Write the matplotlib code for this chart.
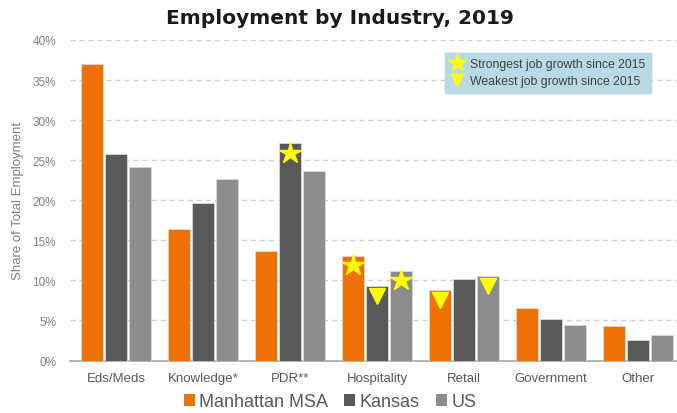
import matplotlib
matplotlib.use("Agg")
import matplotlib.pyplot as plt
import numpy as np
from matplotlib.lines import Line2D
from matplotlib.patches import Patch

categories = ["Eds/Meds", "Knowledge*", "PDR**", "Hospitality", "Retail", "Government", "Other"]
series_names = ["Manhattan MSA", "Kansas", "US"]
manhattan = [37.0, 16.4, 13.7, 13.1, 8.8, 6.5, 4.35]
kansas = [25.8, 19.6, 27.1, 9.25, 10.2, 5.2, 2.6]
us = [24.2, 22.7, 23.7, 11.2, 10.5, 4.4, 3.2]
yticks = [0, 5, 10, 15, 20, 25, 30, 35, 40]

# markers: (category index, series index)
strongest = [(2, 1), (3, 0), (3, 2)]
weakest = [(3, 1), (4, 0), (4, 2)]

colors = ["#EE7203", "#595959", "#8C8C8C"]

plt.rcParams['font.family'] = ['Liberation Sans', 'DejaVu Sans']

fig = plt.figure(figsize=(6.77, 4.14), dpi=100)
ax = fig.add_axes([70/677, 1 - 361.5/414, (677-70)/677, (361.5-41)/414])

x = np.arange(len(categories))
spacing = 0.275
width = 0.25
data = [manhattan, kansas, us]
for i, (vals, c) in enumerate(zip(data, colors)):
    ax.bar(x + (i - 1) * spacing, vals, width, color=c, edgecolor="#d9d9d9",
           linewidth=0.6, zorder=3)

offset = 1.2
for ci, si in strongest:
    ax.plot(x[ci] + (si - 1) * spacing, data[si][ci] - offset, marker="*",
            ms=16, color="#FFFF00", markeredgecolor="#FFFF00", zorder=4, ls="none")
for ci, si in weakest:
    ax.plot(x[ci] + (si - 1) * spacing, data[si][ci] - offset, marker="v",
            ms=11, color="#FFFF00", markeredgecolor="#FFFF00", zorder=4, ls="none")

ax.set_ylim(0, 40)
ax.set_xlim(-0.53, 6.45)
ax.set_yticks(yticks)
ax.set_yticklabels([f"{v}%" for v in yticks])
ax.yaxis.grid(True, linestyle=(0, (3.5, 3)), color="#CFCFCF", linewidth=1.0, zorder=0)
ax.set_axisbelow(True)
for s in ["left", "right", "top"]:
    ax.spines[s].set_visible(False)
ax.spines["bottom"].set_color("#A6A6A6")
ax.spines["bottom"].set_linewidth(1.2)
ax.tick_params(axis="y", length=0, labelsize=8.5, labelcolor="#808080", pad=10)
ax.tick_params(axis="x", length=0, labelsize=9.5, labelcolor="#595959", pad=8)
ax.set_xticks(x)
ax.set_xticklabels(categories)
ax.set_ylabel("Share of Total Employment", fontsize=9.5, color="#7f7f7f", labelpad=6)

fig.text(340/677, 1 - 19/414, "Employment by Industry, 2019", ha="center", va="center",
         fontsize=14.5, fontweight="bold", color="#1a1a1a", family=["DejaVu Sans"])

# marker legend box
handles = [Line2D([], [], marker="*", ms=13, color="#FFFF00", ls="none"),
           Line2D([], [], marker="v", ms=9, color="#FFFF00", ls="none")]
leg1 = ax.legend(handles, ["Strongest job growth since 2015", "Weakest job growth since 2015"],
                 loc="upper left", bbox_to_anchor=((445-70)/607, (361.5-54)/320.5),
                 frameon=True, fancybox=False, framealpha=1, facecolor="#B7DAE5",
                 edgecolor="#B7DAE5", fontsize=8.8, handletextpad=0.5, handlelength=1.1,
                 labelspacing=0.4, borderpad=0.45, borderaxespad=0)
for t in leg1.get_texts():
    t.set_color("#404040")
ax.add_artist(leg1)

# series legend
phandles = [Patch(facecolor=c, edgecolor="none") for c in colors]
fig.legend(phandles, series_names, loc="center", bbox_to_anchor=(330/677, 1 - 403/414),
           ncol=3, frameon=False, fontsize=13, handlelength=0.6, handleheight=0.6,
           handletextpad=0.25, columnspacing=0.9, labelcolor="#595959")

fig.savefig("out.png", dpi=100)
